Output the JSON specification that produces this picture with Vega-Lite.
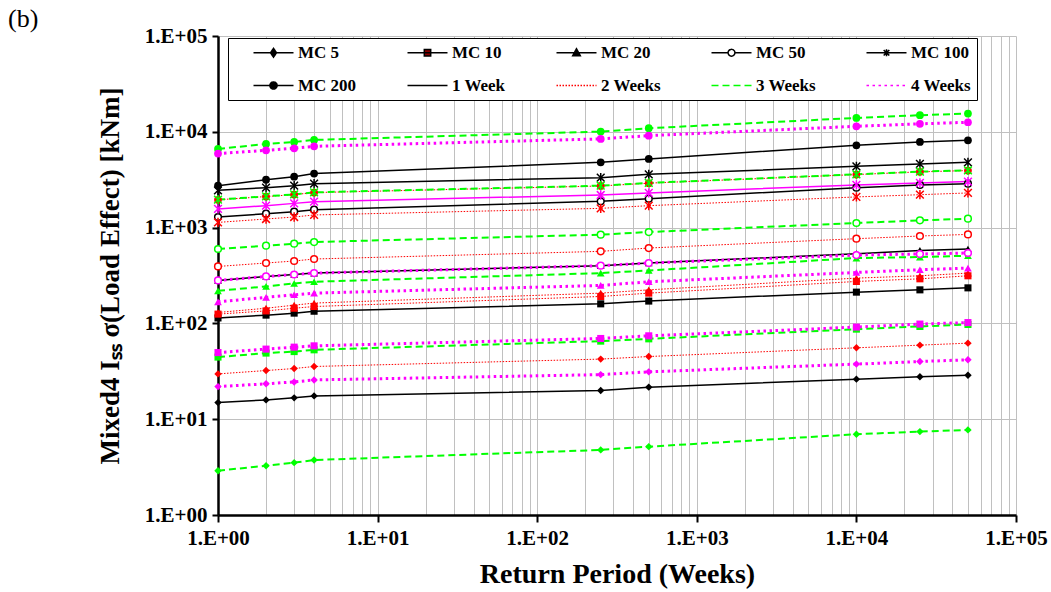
{
  "$schema": "https://vega.github.io/schema/vega-lite/v6.json",
  "width": 798,
  "height": 479,
  "autosize": "none",
  "padding": {"left": 218, "top": 36, "right": 35, "bottom": 77},
  "background": "white",
  "title": {"text": "(b)", "anchor": "start", "frame": "group", "dx": -210, "offset": -7, "font": "Liberation Serif", "fontSize": 26, "fontWeight": "normal", "color": "black"},
  "config": {
    "font": "Liberation Serif",
    "view": {"stroke": null},
    "legend": {
      "orient": "none", "legendX": 10, "legendY": 2, "columns": 5, "direction": "horizontal", "gridAlign": "each",
      "columnPadding": 31, "rowPadding": 15, "padding": 6,
      "strokeColor": "black", "fillColor": "white",
      "symbolSize": 64, "symbolOffset": 31, "symbolOpacity": 1, "labelOffset": 16,
      "labelFont": "Liberation Serif", "labelFontSize": 17, "labelFontWeight": "bold", "labelColor": "black", "labelLimit": 300
    }
  },
  "data": {"values": [
    {"m":"MC 5","d":"1 Week","x":1,"y":14.9},{"m":"MC 5","d":"1 Week","x":2,"y":15.9},{"m":"MC 5","d":"1 Week","x":3,"y":16.7},{"m":"MC 5","d":"1 Week","x":4,"y":17.5},{"m":"MC 5","d":"1 Week","x":250,"y":19.9},{"m":"MC 5","d":"1 Week","x":500,"y":21.6},{"m":"MC 5","d":"1 Week","x":10000,"y":26.2},{"m":"MC 5","d":"1 Week","x":25000,"y":27.7},{"m":"MC 5","d":"1 Week","x":50000,"y":28.8},
    {"m":"MC 10","d":"1 Week","x":1,"y":114},{"m":"MC 10","d":"1 Week","x":2,"y":122},{"m":"MC 10","d":"1 Week","x":3,"y":128},{"m":"MC 10","d":"1 Week","x":4,"y":134},{"m":"MC 10","d":"1 Week","x":250,"y":160},{"m":"MC 10","d":"1 Week","x":500,"y":171},{"m":"MC 10","d":"1 Week","x":10000,"y":212},{"m":"MC 10","d":"1 Week","x":25000,"y":224},{"m":"MC 10","d":"1 Week","x":50000,"y":235},
    {"m":"MC 20","d":"1 Week","x":1,"y":281},{"m":"MC 20","d":"1 Week","x":2,"y":309},{"m":"MC 20","d":"1 Week","x":3,"y":324},{"m":"MC 20","d":"1 Week","x":4,"y":335},{"m":"MC 20","d":"1 Week","x":250,"y":400},{"m":"MC 20","d":"1 Week","x":500,"y":427},{"m":"MC 20","d":"1 Week","x":10000,"y":534},{"m":"MC 20","d":"1 Week","x":25000,"y":578},{"m":"MC 20","d":"1 Week","x":50000,"y":598},
    {"m":"MC 50","d":"1 Week","x":1,"y":1290},{"m":"MC 50","d":"1 Week","x":2,"y":1397},{"m":"MC 50","d":"1 Week","x":3,"y":1466},{"m":"MC 50","d":"1 Week","x":4,"y":1538},{"m":"MC 50","d":"1 Week","x":250,"y":1880},{"m":"MC 50","d":"1 Week","x":500,"y":2004},{"m":"MC 50","d":"1 Week","x":10000,"y":2610},{"m":"MC 50","d":"1 Week","x":25000,"y":2790},{"m":"MC 50","d":"1 Week","x":50000,"y":2875},
    {"m":"MC 100","d":"1 Week","x":1,"y":2450},{"m":"MC 100","d":"1 Week","x":2,"y":2610},{"m":"MC 100","d":"1 Week","x":3,"y":2740},{"m":"MC 100","d":"1 Week","x":4,"y":2875},{"m":"MC 100","d":"1 Week","x":250,"y":3320},{"m":"MC 100","d":"1 Week","x":500,"y":3600},{"m":"MC 100","d":"1 Week","x":10000,"y":4360},{"m":"MC 100","d":"1 Week","x":25000,"y":4620},{"m":"MC 100","d":"1 Week","x":50000,"y":4800},
    {"m":"MC 200","d":"1 Week","x":1,"y":2740},{"m":"MC 200","d":"1 Week","x":2,"y":3165},{"m":"MC 200","d":"1 Week","x":3,"y":3400},{"m":"MC 200","d":"1 Week","x":4,"y":3660},{"m":"MC 200","d":"1 Week","x":250,"y":4800},{"m":"MC 200","d":"1 Week","x":500,"y":5210},{"m":"MC 200","d":"1 Week","x":10000,"y":7230},{"m":"MC 200","d":"1 Week","x":25000,"y":7840},{"m":"MC 200","d":"1 Week","x":50000,"y":8150},
    {"m":"MC 5","d":"2 Weeks","x":1,"y":29.7},{"m":"MC 5","d":"2 Weeks","x":2,"y":32.2},{"m":"MC 5","d":"2 Weeks","x":3,"y":33.8},{"m":"MC 5","d":"2 Weeks","x":4,"y":35.5},{"m":"MC 5","d":"2 Weeks","x":250,"y":42.4},{"m":"MC 5","d":"2 Weeks","x":500,"y":45.1},{"m":"MC 5","d":"2 Weeks","x":10000,"y":55.6},{"m":"MC 5","d":"2 Weeks","x":25000,"y":59.3},{"m":"MC 5","d":"2 Weeks","x":50000,"y":62.2},
    {"m":"MC 10","d":"2 Weeks","x":1,"y":125},{"m":"MC 10","d":"2 Weeks","x":2,"y":135},{"m":"MC 10","d":"2 Weeks","x":3,"y":144},{"m":"MC 10","d":"2 Weeks","x":4,"y":150},{"m":"MC 10","d":"2 Weeks","x":250,"y":191},{"m":"MC 10","d":"2 Weeks","x":500,"y":207},{"m":"MC 10","d":"2 Weeks","x":10000,"y":274},{"m":"MC 10","d":"2 Weeks","x":25000,"y":292},{"m":"MC 10","d":"2 Weeks","x":50000,"y":314},
    {"m":"MC 20","d":"2 Weeks","x":1,"y":130},{"m":"MC 20","d":"2 Weeks","x":2,"y":144},{"m":"MC 20","d":"2 Weeks","x":3,"y":155},{"m":"MC 20","d":"2 Weeks","x":4,"y":163},{"m":"MC 20","d":"2 Weeks","x":250,"y":207},{"m":"MC 20","d":"2 Weeks","x":500,"y":224},{"m":"MC 20","d":"2 Weeks","x":10000,"y":297},{"m":"MC 20","d":"2 Weeks","x":25000,"y":314},{"m":"MC 20","d":"2 Weeks","x":50000,"y":335},
    {"m":"MC 50","d":"2 Weeks","x":1,"y":393},{"m":"MC 50","d":"2 Weeks","x":2,"y":427},{"m":"MC 50","d":"2 Weeks","x":3,"y":448},{"m":"MC 50","d":"2 Weeks","x":4,"y":470},{"m":"MC 50","d":"2 Weeks","x":250,"y":565},{"m":"MC 50","d":"2 Weeks","x":500,"y":612},{"m":"MC 50","d":"2 Weeks","x":10000,"y":766},{"m":"MC 50","d":"2 Weeks","x":25000,"y":817},{"m":"MC 50","d":"2 Weeks","x":50000,"y":849},
    {"m":"MC 100","d":"2 Weeks","x":1,"y":1133},{"m":"MC 100","d":"2 Weeks","x":2,"y":1230},{"m":"MC 100","d":"2 Weeks","x":3,"y":1290},{"m":"MC 100","d":"2 Weeks","x":4,"y":1355},{"m":"MC 100","d":"2 Weeks","x":250,"y":1588},{"m":"MC 100","d":"2 Weeks","x":500,"y":1694},{"m":"MC 100","d":"2 Weeks","x":10000,"y":2090},{"m":"MC 100","d":"2 Weeks","x":25000,"y":2205},{"m":"MC 100","d":"2 Weeks","x":50000,"y":2300},
    {"m":"MC 200","d":"2 Weeks","x":1,"y":1950},{"m":"MC 200","d":"2 Weeks","x":2,"y":2110},{"m":"MC 200","d":"2 Weeks","x":3,"y":2210},{"m":"MC 200","d":"2 Weeks","x":4,"y":2320},{"m":"MC 200","d":"2 Weeks","x":250,"y":2720},{"m":"MC 200","d":"2 Weeks","x":500,"y":2910},{"m":"MC 200","d":"2 Weeks","x":10000,"y":3580},{"m":"MC 200","d":"2 Weeks","x":25000,"y":3820},{"m":"MC 200","d":"2 Weeks","x":50000,"y":3940},
    {"m":"MC 5","d":"3 Weeks","x":1,"y":2.9},{"m":"MC 5","d":"3 Weeks","x":2,"y":3.27},{"m":"MC 5","d":"3 Weeks","x":3,"y":3.52},{"m":"MC 5","d":"3 Weeks","x":4,"y":3.75},{"m":"MC 5","d":"3 Weeks","x":250,"y":4.78},{"m":"MC 5","d":"3 Weeks","x":500,"y":5.17},{"m":"MC 5","d":"3 Weeks","x":10000,"y":6.97},{"m":"MC 5","d":"3 Weeks","x":25000,"y":7.42},{"m":"MC 5","d":"3 Weeks","x":50000,"y":7.73},
    {"m":"MC 10","d":"3 Weeks","x":1,"y":44.5},{"m":"MC 10","d":"3 Weeks","x":2,"y":49.0},{"m":"MC 10","d":"3 Weeks","x":3,"y":50.8},{"m":"MC 10","d":"3 Weeks","x":4,"y":53.0},{"m":"MC 10","d":"3 Weeks","x":250,"y":65.3},{"m":"MC 10","d":"3 Weeks","x":500,"y":69.0},{"m":"MC 10","d":"3 Weeks","x":10000,"y":87.1},{"m":"MC 10","d":"3 Weeks","x":25000,"y":92.9},{"m":"MC 10","d":"3 Weeks","x":50000,"y":97.4},
    {"m":"MC 20","d":"3 Weeks","x":1,"y":219},{"m":"MC 20","d":"3 Weeks","x":2,"y":243},{"m":"MC 20","d":"3 Weeks","x":3,"y":261},{"m":"MC 20","d":"3 Weeks","x":4,"y":272},{"m":"MC 20","d":"3 Weeks","x":250,"y":335},{"m":"MC 20","d":"3 Weeks","x":500,"y":357},{"m":"MC 20","d":"3 Weeks","x":10000,"y":481},{"m":"MC 20","d":"3 Weeks","x":25000,"y":493},{"m":"MC 20","d":"3 Weeks","x":50000,"y":509},
    {"m":"MC 50","d":"3 Weeks","x":1,"y":598},{"m":"MC 50","d":"3 Weeks","x":2,"y":647},{"m":"MC 50","d":"3 Weeks","x":3,"y":679},{"m":"MC 50","d":"3 Weeks","x":4,"y":707},{"m":"MC 50","d":"3 Weeks","x":250,"y":844},{"m":"MC 50","d":"3 Weeks","x":500,"y":899},{"m":"MC 50","d":"3 Weeks","x":10000,"y":1117},{"m":"MC 50","d":"3 Weeks","x":25000,"y":1190},{"m":"MC 50","d":"3 Weeks","x":50000,"y":1239},
    {"m":"MC 100","d":"3 Weeks","x":1,"y":1960},{"m":"MC 100","d":"3 Weeks","x":2,"y":2120},{"m":"MC 100","d":"3 Weeks","x":3,"y":2220},{"m":"MC 100","d":"3 Weeks","x":4,"y":2333},{"m":"MC 100","d":"3 Weeks","x":250,"y":2740},{"m":"MC 100","d":"3 Weeks","x":500,"y":2925},{"m":"MC 100","d":"3 Weeks","x":10000,"y":3600},{"m":"MC 100","d":"3 Weeks","x":25000,"y":3840},{"m":"MC 100","d":"3 Weeks","x":50000,"y":3960},
    {"m":"MC 200","d":"3 Weeks","x":1,"y":6630},{"m":"MC 200","d":"3 Weeks","x":2,"y":7470},{"m":"MC 200","d":"3 Weeks","x":3,"y":7840},{"m":"MC 200","d":"3 Weeks","x":4,"y":8230},{"m":"MC 200","d":"3 Weeks","x":250,"y":10050},{"m":"MC 200","d":"3 Weeks","x":500,"y":10900},{"m":"MC 200","d":"3 Weeks","x":10000,"y":13960},{"m":"MC 200","d":"3 Weeks","x":25000,"y":14900},{"m":"MC 200","d":"3 Weeks","x":50000,"y":15500},
    {"m":"MC 5","d":"4 Weeks","x":1,"y":21.9},{"m":"MC 5","d":"4 Weeks","x":2,"y":23.4},{"m":"MC 5","d":"4 Weeks","x":3,"y":24.5},{"m":"MC 5","d":"4 Weeks","x":4,"y":25.7},{"m":"MC 5","d":"4 Weeks","x":250,"y":29.2},{"m":"MC 5","d":"4 Weeks","x":500,"y":31.2},{"m":"MC 5","d":"4 Weeks","x":10000,"y":37.6},{"m":"MC 5","d":"4 Weeks","x":25000,"y":40.0},{"m":"MC 5","d":"4 Weeks","x":50000,"y":41.7},
    {"m":"MC 10","d":"4 Weeks","x":1,"y":49.6},{"m":"MC 10","d":"4 Weeks","x":2,"y":53.9},{"m":"MC 10","d":"4 Weeks","x":3,"y":56.5},{"m":"MC 10","d":"4 Weeks","x":4,"y":58.3},{"m":"MC 10","d":"4 Weeks","x":250,"y":69.6},{"m":"MC 10","d":"4 Weeks","x":500,"y":74.2},{"m":"MC 10","d":"4 Weeks","x":10000,"y":91.5},{"m":"MC 10","d":"4 Weeks","x":25000,"y":98.4},{"m":"MC 10","d":"4 Weeks","x":50000,"y":102},
    {"m":"MC 20","d":"4 Weeks","x":1,"y":168},{"m":"MC 20","d":"4 Weeks","x":2,"y":187},{"m":"MC 20","d":"4 Weeks","x":3,"y":199},{"m":"MC 20","d":"4 Weeks","x":4,"y":207},{"m":"MC 20","d":"4 Weeks","x":250,"y":249},{"m":"MC 20","d":"4 Weeks","x":500,"y":272},{"m":"MC 20","d":"4 Weeks","x":10000,"y":340},{"m":"MC 20","d":"4 Weeks","x":25000,"y":363},{"m":"MC 20","d":"4 Weeks","x":50000,"y":378},
    {"m":"MC 50","d":"4 Weeks","x":1,"y":281},{"m":"MC 50","d":"4 Weeks","x":2,"y":309},{"m":"MC 50","d":"4 Weeks","x":3,"y":324},{"m":"MC 50","d":"4 Weeks","x":4,"y":335},{"m":"MC 50","d":"4 Weeks","x":250,"y":400},{"m":"MC 50","d":"4 Weeks","x":500,"y":427},{"m":"MC 50","d":"4 Weeks","x":10000,"y":517},{"m":"MC 50","d":"4 Weeks","x":25000,"y":530},{"m":"MC 50","d":"4 Weeks","x":50000,"y":543},
    {"m":"MC 100","d":"4 Weeks","x":1,"y":1565},{"m":"MC 100","d":"4 Weeks","x":2,"y":1694},{"m":"MC 100","d":"4 Weeks","x":3,"y":1790},{"m":"MC 100","d":"4 Weeks","x":4,"y":1866},{"m":"MC 100","d":"4 Weeks","x":250,"y":2190},{"m":"MC 100","d":"4 Weeks","x":500,"y":2300},{"m":"MC 100","d":"4 Weeks","x":10000,"y":2790},{"m":"MC 100","d":"4 Weeks","x":25000,"y":2925},{"m":"MC 100","d":"4 Weeks","x":50000,"y":3020},
    {"m":"MC 200","d":"4 Weeks","x":1,"y":5920},{"m":"MC 200","d":"4 Weeks","x":2,"y":6410},{"m":"MC 200","d":"4 Weeks","x":3,"y":6730},{"m":"MC 200","d":"4 Weeks","x":4,"y":7060},{"m":"MC 200","d":"4 Weeks","x":250,"y":8430},{"m":"MC 200","d":"4 Weeks","x":500,"y":9120},{"m":"MC 200","d":"4 Weeks","x":10000,"y":11420},{"m":"MC 200","d":"4 Weeks","x":25000,"y":12100},{"m":"MC 200","d":"4 Weeks","x":50000,"y":12580}
  ]},
  "encoding": {
    "x": {"field": "x", "type": "quantitative",
      "scale": {"type": "log", "domain": [1, 100000], "nice": false},
      "axis": {
        "values": [1,2,3,4,5,6,7,8,9,10,20,30,40,50,60,70,80,90,100,200,300,400,500,600,700,800,900,1000,2000,3000,4000,5000,6000,7000,8000,9000,10000,20000,30000,40000,50000,60000,70000,80000,90000,100000],
        "grid": true, "gridColor": "#c0c0c0", "gridWidth": 1,
        "domainColor": "black", "domainWidth": 2.5,
        "tickColor": "black", "tickWidth": 2, "tickSize": 7,
        "tickOpacity": {"condition": {"test": "abs(log(datum.value)/LN10 - round(log(datum.value)/LN10)) < 0.001", "value": 1}, "value": 0},
        "labelExpr": "abs(log(datum.value)/LN10 - round(log(datum.value)/LN10)) < 0.001 ? '1.E+0' + round(log(datum.value)/LN10) : ''",
        "labelFont": "Liberation Serif", "labelFontWeight": "bold", "labelFontSize": 21, "labelColor": "black",
        "labelPadding": 5, "labelOverlap": false, "labelFlush": false,
        "title": "Return Period (Weeks)", "titleFont": "Liberation Serif", "titleFontWeight": "bold", "titleFontSize": 28, "titleColor": "black", "titlePadding": 12
      }},
    "y": {"field": "y", "type": "quantitative",
      "scale": {"type": "log", "domain": [1, 100000], "nice": false},
      "axis": {
        "values": [1,10,100,1000,10000,100000],
        "grid": true, "gridColor": "#c0c0c0", "gridWidth": 1,
        "domainColor": "black", "domainWidth": 2.5,
        "tickColor": "black", "tickWidth": 2, "tickSize": 6,
        "labelExpr": "'1.E+0' + round(log(datum.value)/LN10)",
        "labelFont": "Liberation Serif", "labelFontWeight": "bold", "labelFontSize": 21, "labelColor": "black",
        "labelPadding": 5,
        "title": "Mixed4 Iₛₛ σ(Load Effect) [kNm]", "titleFont": "Liberation Serif", "titleFontWeight": "bold", "titleFontSize": 27, "titleColor": "black", "titlePadding": 20
      }}
  },
  "layer": [
    {
      "transform": [{"filter": "datum.d == '1 Week'"}],
      "mark": {"type": "line", "color": "#000000", "strokeWidth": 1.5},
      "encoding": {"detail": {"field": "m", "type": "nominal"}}
    },
    {
      "transform": [{"filter": "datum.d == '2 Weeks'"}],
      "mark": {"type": "line", "color": "#ff0000", "strokeWidth": 1, "strokeDash": [1.5, 1.5]},
      "encoding": {"detail": {"field": "m", "type": "nominal"}}
    },
    {
      "transform": [{"filter": "datum.d == '3 Weeks'"}],
      "mark": {"type": "line", "color": "#00ff00", "strokeWidth": 2, "strokeDash": [7, 4]},
      "encoding": {"detail": {"field": "m", "type": "nominal"}}
    },
    {
      "transform": [{"filter": "datum.d == '4 Weeks' && datum.m != 'MC 100'"}],
      "mark": {"type": "line", "color": "#ff00ff", "strokeWidth": 3, "strokeDash": [2.5, 3.5]},
      "encoding": {"detail": {"field": "m", "type": "nominal"}}
    },
    {
      "transform": [{"filter": "datum.d == '4 Weeks' && datum.m == 'MC 100'"}],
      "mark": {"type": "line", "color": "#ff00ff", "strokeWidth": 1.5}
    },
    {
      "transform": [{"filter": "datum.m == 'MC 5'"}],
      "mark": {"type": "point", "filled": true, "shape": "diamond", "size": 55, "opacity": 1},
      "encoding": {"color": {"field": "d", "type": "nominal", "legend": null,
        "scale": {"domain": ["1 Week","2 Weeks","3 Weeks","4 Weeks"], "range": ["#000000","#ff0000","#00ff00","#ff00ff"]}}}
    },
    {
      "transform": [{"filter": "datum.m == 'MC 10'"}],
      "mark": {"type": "point", "filled": true, "shape": "square", "size": 50, "opacity": 1},
      "encoding": {"color": {"field": "d", "type": "nominal", "legend": null,
        "scale": {"domain": ["1 Week","2 Weeks","3 Weeks","4 Weeks"], "range": ["#000000","#ff0000","#00ff00","#ff00ff"]}}}
    },
    {
      "transform": [{"filter": "datum.m == 'MC 20'"}],
      "mark": {"type": "point", "filled": true, "shape": "triangle-up", "size": 60, "opacity": 1},
      "encoding": {"color": {"field": "d", "type": "nominal", "legend": null,
        "scale": {"domain": ["1 Week","2 Weeks","3 Weeks","4 Weeks"], "range": ["#000000","#ff0000","#00ff00","#ff00ff"]}}}
    },
    {
      "transform": [{"filter": "datum.m == 'MC 200'"}],
      "mark": {"type": "point", "filled": true, "shape": "circle", "size": 60, "opacity": 1},
      "encoding": {"color": {"field": "d", "type": "nominal", "legend": null,
        "scale": {"domain": ["1 Week","2 Weeks","3 Weeks","4 Weeks"], "range": ["#000000","#ff0000","#00ff00","#ff00ff"]}}}
    },
    {
      "transform": [{"filter": "datum.m == 'MC 50'"}],
      "mark": {"type": "point", "filled": false, "shape": "circle", "fill": "white", "size": 45, "strokeWidth": 1.5, "opacity": 1},
      "encoding": {"color": {"field": "d", "type": "nominal", "legend": null,
        "scale": {"domain": ["1 Week","2 Weeks","3 Weeks","4 Weeks"], "range": ["#000000","#ff0000","#00ff00","#ff00ff"]}}}
    },
    {
      "transform": [{"filter": "datum.m == 'MC 100'"}],
      "mark": {"type": "point", "filled": false, "shape": "M-1,-1L1,1M-1,1L1,-1M0,-1.2L0,1.2", "size": 60, "strokeWidth": 1.5, "opacity": 1},
      "encoding": {"color": {"field": "d", "type": "nominal", "legend": null,
        "scale": {"domain": ["1 Week","2 Weeks","3 Weeks","4 Weeks"], "range": ["#000000","#ff0000","#00ff00","#ff00ff"]}}}
    },
    {
      "data": {"values": [
        {"lg": "MC 5"}, {"lg": "MC 10"}, {"lg": "MC 20"}, {"lg": "MC 50"}, {"lg": "MC 100"},
        {"lg": "MC 200"}, {"lg": "1 Week"}, {"lg": "2 Weeks"}, {"lg": "3 Weeks"}, {"lg": "4 Weeks"}
      ]},
      "mark": {"type": "point", "filled": true, "opacity": 1},
      "encoding": {
        "fill": {"field": "lg", "type": "nominal", "title": null,
          "scale": {"domain": ["MC 5","MC 10","MC 20","MC 50","MC 100","MC 200","1 Week","2 Weeks","3 Weeks","4 Weeks"],
                    "range": ["black","#8b0000","black","white","black","black","black","#ff0000","#00ff00","#ff00ff"]}},
        "stroke": {"field": "lg", "type": "nominal", "title": null,
          "scale": {"domain": ["MC 5","MC 10","MC 20","MC 50","MC 100","MC 200","1 Week","2 Weeks","3 Weeks","4 Weeks"],
                    "range": ["black","black","black","black","black","black","black","#ff0000","#00ff00","#ff00ff"]}},
        "shape": {"field": "lg", "type": "nominal", "title": null,
          "scale": {"domain": ["MC 5","MC 10","MC 20","MC 50","MC 100","MC 200","1 Week","2 Weeks","3 Weeks","4 Weeks"],
                    "range": [
                      "M-5,0L5,0M0,-1.1L0.75,0L0,1.1L-0.75,0Z",
                      "M-5,0L5,0M-0.8,-0.8L0.8,-0.8L0.8,0.8L-0.8,0.8Z",
                      "M-5,0L5,0M0,-1L0.95,0.75L-0.95,0.75Z",
                      "M-5,0L-0.85,0M0.85,0L5,0M0.85,0A0.85,0.85,0,1,1,-0.85,0A0.85,0.85,0,1,1,0.85,0Z",
                      "M-5,0L5,0M-0.7,-0.7L0.7,0.7M-0.7,0.7L0.7,-0.7M0,-0.9L0,0.9",
                      "M-5,0L5,0M0.9,0A0.9,0.9,0,1,1,-0.9,0A0.9,0.9,0,1,1,0.9,0Z",
                      "M-5,0L5,0", "M-5,0L5,0", "M-5,0L5,0", "M-5,0L5,0"]}},
        "strokeDash": {"field": "lg", "type": "nominal", "title": null,
          "scale": {"domain": ["MC 5","MC 10","MC 20","MC 50","MC 100","MC 200","1 Week","2 Weeks","3 Weeks","4 Weeks"],
                    "range": [[1,0],[1,0],[1,0],[1,0],[1,0],[1,0],[1,0],[1.5,1.5],[7,4],[2.5,3.5]]}},
        "strokeWidth": {"field": "lg", "type": "nominal", "title": null,
          "scale": {"domain": ["MC 5","MC 10","MC 20","MC 50","MC 100","MC 200","1 Week","2 Weeks","3 Weeks","4 Weeks"],
                    "range": [1.5,1.5,1.5,1.5,1.5,1.5,1.5,1,2,3]}}
      }
    }
  ]
}
